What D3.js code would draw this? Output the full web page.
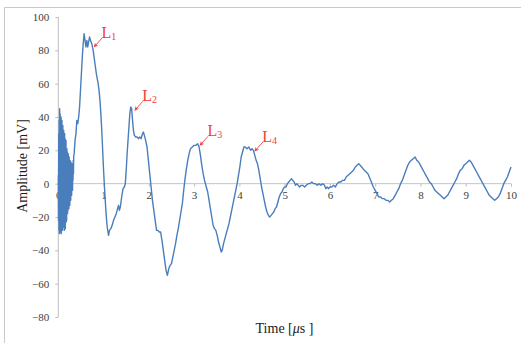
<!DOCTYPE html>
<html>
<head>
<meta charset="utf-8">
<script src="https://cdn.jsdelivr.net/npm/d3@7"></script>
<style>
  html, body { margin: 0; padding: 0; background: #fff; }
  svg { display: block; }
</style>
</head>
<body>
<svg id="chart" width="521" height="343"></svg>
<script>
// Ringing burst at the start of the record: [time µs, amplitude mV]
const burstSamples = [
  [0.000, 5], [0.005, -22], [0.010, 30], [0.015, -28], [0.020, 38], [0.025, -30],
  [0.030, 45], [0.035, -18], [0.040, 42], [0.045, -29], [0.050, 33], [0.055, -26],
  [0.060, 40], [0.065, -30], [0.070, 28], [0.075, -22], [0.080, 38], [0.085, -27],
  [0.090, 25], [0.095, -28], [0.100, 35], [0.105, -20], [0.110, 30], [0.115, -26],
  [0.120, 32], [0.125, -24], [0.130, 22], [0.135, -28], [0.140, 30], [0.145, -18],
  [0.150, 27], [0.155, -27], [0.160, 24], [0.165, -20], [0.170, 26], [0.175, -23],
  [0.180, 18], [0.185, -22], [0.190, 21], [0.195, -14], [0.200, 19], [0.205, -18],
  [0.210, 15], [0.215, -16], [0.220, 18], [0.225, -12], [0.230, 13], [0.235, -15],
  [0.240, 16], [0.245, -10], [0.250, 12], [0.255, -13], [0.260, 14], [0.265, -8],
  [0.270, 10], [0.275, -10], [0.280, 13], [0.285, -5], [0.290, 11], [0.295, -7],
  [0.300, 12], [0.305, -2], [0.310, 10], [0.315, -4], [0.320, 12], [0.325, 2],
  [0.330, 14], [0.335, 6], [0.340, 16]
];

// Main echo train: [time µs, amplitude mV]
const waveSamples = [
  [0.35, 18], [0.37, 26], [0.39, 30], [0.41, 38], [0.43, 36], [0.45, 40], [0.47, 46],
  [0.49, 56], [0.51, 66], [0.53, 76], [0.55, 84], [0.57, 90], [0.59, 86], [0.61, 82],
  [0.63, 86], [0.65, 82], [0.67, 85], [0.69, 88], [0.71, 86], [0.74, 84], [0.77, 80],
  [0.80, 74], [0.82, 70], [0.84, 66], [0.86, 63], [0.88, 60], [0.90, 56], [0.92, 50],
  [0.94, 42], [0.96, 32], [0.98, 20], [1.00, 8], [1.02, -2], [1.05, -16], [1.08, -26],
  [1.11, -31], [1.13, -28], [1.16, -27], [1.19, -25], [1.22, -22], [1.25, -20],
  [1.28, -18], [1.31, -15], [1.33, -13], [1.35, -16], [1.37, -14], [1.40, -8],
  [1.43, -3], [1.46, -2], [1.48, 0], [1.50, 8], [1.52, 18], [1.54, 26], [1.56, 34],
  [1.58, 42], [1.60, 46], [1.62, 45], [1.64, 38], [1.66, 32], [1.68, 29], [1.71, 28],
  [1.74, 28], [1.77, 27], [1.80, 28], [1.83, 27], [1.86, 30], [1.88, 31], [1.90, 29],
  [1.93, 26], [1.96, 22], [1.99, 14], [2.02, 6], [2.05, -2], [2.08, -10], [2.11, -16],
  [2.14, -22], [2.17, -28], [2.20, -28], [2.23, -29], [2.26, -29], [2.29, -34],
  [2.32, -40], [2.35, -46], [2.38, -52], [2.41, -55], [2.44, -51], [2.47, -49],
  [2.50, -48], [2.53, -44], [2.56, -40], [2.59, -36], [2.62, -31], [2.65, -27],
  [2.68, -22], [2.71, -17], [2.74, -12], [2.77, -4], [2.80, 3], [2.83, 9], [2.86, 14],
  [2.89, 18], [2.92, 21], [2.96, 22], [3.00, 23], [3.04, 23], [3.08, 24], [3.11, 22],
  [3.14, 17], [3.17, 11], [3.20, 6], [3.23, 2], [3.27, -2], [3.30, -5], [3.33, -10],
  [3.36, -15], [3.39, -20], [3.42, -25], [3.45, -27], [3.48, -28], [3.51, -31],
  [3.54, -35], [3.57, -38], [3.60, -41], [3.62, -40], [3.65, -36], [3.68, -33],
  [3.71, -30], [3.74, -27], [3.77, -24], [3.80, -20], [3.83, -16], [3.86, -12],
  [3.89, -8], [3.92, -4], [3.95, 0], [3.98, 5], [4.01, 10], [4.04, 16], [4.07, 19],
  [4.10, 22], [4.13, 22], [4.17, 21], [4.21, 22], [4.25, 20], [4.28, 21], [4.31, 20],
  [4.34, 17], [4.37, 14], [4.40, 12], [4.43, 8], [4.46, 3], [4.49, -2], [4.52, -6],
  [4.55, -10], [4.58, -14], [4.61, -17], [4.64, -19], [4.67, -20], [4.70, -19],
  [4.73, -18], [4.76, -17], [4.79, -15], [4.82, -14], [4.85, -11], [4.88, -8],
  [4.91, -6], [4.94, -5], [4.97, -3], [5.00, -2], [5.03, -2], [5.06, 0], [5.09, 1],
  [5.12, 2], [5.15, 3], [5.18, 2], [5.21, 1], [5.24, -1], [5.27, 0], [5.30, -1],
  [5.33, -2], [5.36, -1], [5.40, -1], [5.44, -2], [5.48, -1], [5.52, 0], [5.56, 0],
  [5.60, 1], [5.64, 0], [5.68, 0], [5.72, -1], [5.76, 0], [5.80, -1], [5.84, 0],
  [5.88, -1], [5.91, -3], [5.94, -2], [5.97, -3], [6.00, -2], [6.04, -2], [6.08, -1],
  [6.12, -2], [6.16, 0], [6.20, 1], [6.24, 1], [6.28, 2], [6.32, 2], [6.36, 4],
  [6.40, 5], [6.44, 6], [6.48, 7], [6.52, 8], [6.56, 10], [6.60, 11], [6.64, 12],
  [6.67, 11], [6.70, 10], [6.73, 9], [6.76, 8], [6.80, 7], [6.84, 6], [6.87, 4],
  [6.90, 2], [6.93, 0], [6.96, -2], [7.00, -4], [7.04, -6], [7.08, -8], [7.12, -8],
  [7.16, -9], [7.20, -9], [7.24, -10], [7.28, -10], [7.32, -11], [7.36, -10],
  [7.40, -9], [7.44, -7], [7.48, -5], [7.52, -3], [7.56, 0], [7.60, 2], [7.64, 5],
  [7.68, 8], [7.72, 11], [7.76, 13], [7.80, 14], [7.84, 15], [7.88, 16], [7.92, 14],
  [7.96, 13], [8.00, 11], [8.04, 9], [8.08, 7], [8.12, 5], [8.16, 3], [8.20, 1],
  [8.24, 0], [8.28, -2], [8.32, -4], [8.36, -5], [8.40, -6], [8.44, -7], [8.48, -8],
  [8.52, -9], [8.56, -8], [8.60, -7], [8.64, -5], [8.68, -3], [8.72, -1], [8.76, 1],
  [8.80, 3], [8.84, 6], [8.88, 8], [8.92, 9], [8.96, 11], [9.00, 12], [9.04, 13],
  [9.08, 14], [9.12, 13], [9.16, 11], [9.20, 9], [9.24, 7], [9.28, 5], [9.32, 3],
  [9.36, 1], [9.40, -1], [9.44, -3], [9.48, -5], [9.52, -7], [9.56, -8], [9.60, -9],
  [9.64, -10], [9.68, -9], [9.72, -8], [9.76, -6], [9.80, -3], [9.84, 0], [9.88, 2],
  [9.92, 4], [9.96, 7], [10.00, 10]
];

const xTicks = [0, 1, 2, 3, 4, 5, 6, 7, 8, 9, 10];
const yTicks = [-80, -60, -40, -20, 0, 20, 40, 60, 80, 100];

// Echo labels: name, subscript, and the point on the trace each arrow points at
const echoNames = ["L", "L", "L", "L"];
const echoSubs = ["1", "2", "3", "4"];
const echoTipTime = [0.79, 1.69, 3.13, 4.34];
const echoTipAmp = [82, 44, 23, 19.5];

const svg = d3.select("#chart");
const serif = "'Liberation Serif', 'Times New Roman', serif";

// outer chart frame (left and top edges)
svg.append("path")
  .attr("d", "M4.5,343 L4.5,7.5 L521,7.5")
  .attr("fill", "none")
  .attr("stroke", "#c9c9c9")
  .attr("stroke-width", 1);

const x = d3.scaleLinear().domain([0, 10]).range([58.3, 511]);
const y = d3.scaleLinear().domain([-80, 100]).range([317, 17]);

// y axis
const yAxis = svg.append("g")
  .attr("transform", `translate(${x(0)},0)`)
  .call(d3.axisLeft(y).tickValues(yTicks).tickSize(3).tickPadding(6)
    .tickFormat(d3.format("d")));
yAxis.select(".domain").attr("stroke", "#bfbfbf").attr("d", `M0,${y(100)}V${y(-80)}`);
yAxis.selectAll(".tick line").attr("stroke", "#bfbfbf");
yAxis.selectAll(".tick text")
  .attr("font-family", serif).attr("font-size", 11).attr("fill", "#404040");

// x axis along zero amplitude
const xAxis = svg.append("g")
  .attr("transform", `translate(0,${y(0)})`)
  .call(d3.axisBottom(x).tickValues(xTicks).tickSize(3).tickPadding(5)
    .tickFormat(d3.format("d")));
xAxis.select(".domain").attr("stroke", "#c4c4c4").attr("d", `M${x(0)},0H${x(10)}`);
xAxis.selectAll(".tick line").attr("stroke", "#bfbfbf");
xAxis.selectAll(".tick text")
  .attr("font-family", serif).attr("font-size", 11).attr("fill", "#404040");
xAxis.selectAll(".tick").filter(d => d === 0).select("line").remove();

// waveform
const line = d3.line().x(d => x(d[0])).y(d => y(d[1]));
svg.append("path")
  .datum(burstSamples.concat(waveSamples))
  .attr("fill", "none")
  .attr("stroke", "#4a7dbb")
  .attr("stroke-width", 1.4)
  .attr("stroke-linejoin", "round")
  .attr("d", line);

// axis titles
svg.append("text")
  .attr("transform", `translate(27,166) rotate(-90)`)
  .attr("text-anchor", "middle")
  .attr("font-family", serif).attr("font-size", 14).attr("fill", "#1a1a1a")
  .text("Amplitude [mV]");

const tt = svg.append("text")
  .attr("x", 284.5).attr("y", 333)
  .attr("text-anchor", "middle")
  .attr("font-family", serif).attr("font-size", 14).attr("fill", "#1a1a1a");
tt.append("tspan").text("Time [");
tt.append("tspan").attr("font-style", "italic").text("\u03bc");
tt.append("tspan").text("s ]");

// echo annotations
const red = "#f23c3c";
svg.append("defs").append("marker")
  .attr("id", "arrowhead")
  .attr("viewBox", "0 0 10 10")
  .attr("refX", 9).attr("refY", 5)
  .attr("markerWidth", 5).attr("markerHeight", 5)
  .attr("orient", "auto")
  .append("path")
  .attr("d", "M0,0 L10,5 L0,10 L3,5 Z")
  .attr("fill", red);

echoNames.forEach((name, i) => {
  const tx = x(echoTipTime[i]);
  const ty = y(echoTipAmp[i]);
  svg.append("line")
    .attr("x1", tx + 8).attr("y1", ty - 9)
    .attr("x2", tx).attr("y2", ty)
    .attr("stroke", red).attr("stroke-width", 0.9)
    .attr("marker-end", "url(#arrowhead)");
  const label = svg.append("text")
    .attr("x", tx + 7.5).attr("y", ty - 9.5)
    .attr("font-family", serif).attr("font-size", 16).attr("fill", red);
  label.append("tspan").text(name);
  label.append("tspan").attr("font-size", 10).attr("dy", 2.5).text(echoSubs[i]);
});
</script>
</body>
</html>
